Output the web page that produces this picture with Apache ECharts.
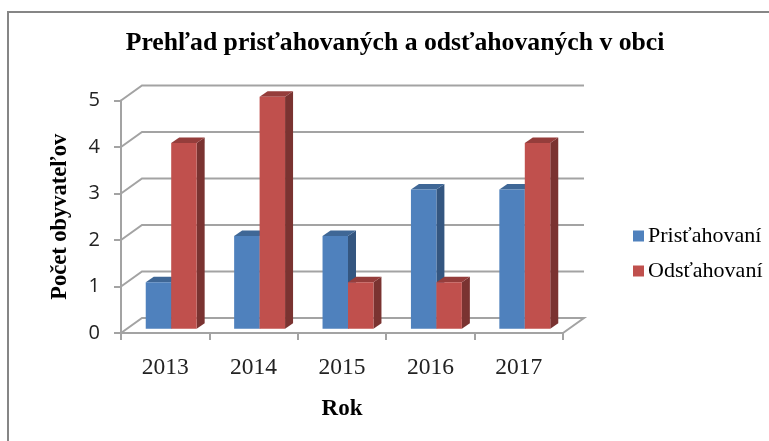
<!DOCTYPE html>
<html><head><meta charset="utf-8">
<style>html,body{margin:0;padding:0;background:#fff}#c{width:769px;height:441px}</style>
<script src="https://cdn.jsdelivr.net/npm/echarts@6/dist/echarts.min.js"></script>
</head><body><div id="c"></div>
<script>
const categories = ['2013','2014','2015','2016','2017'];
const prist = [1,2,2,3,3];
const odst = [4,5,1,1,4];
const yTicks = [0,1,2,3,4,5];
const seriesNames = ['Prisťahovaní','Odsťahovaní'];

const SERIF = '"Liberation Serif"';
const BACK = [21,-15], OFF = [6,-4.3], DEPTH = [8,-5.5];
const GRID = '#A3A3A3';

function bar(side, face, top, dark){
  return function(params, api){
    const c = api.coord([api.value(0), api.value(1)]);
    const b = api.coord([api.value(0), 0]);
    const w = api.size([1,0])[0]*0.288;
    const x0 = c[0]+OFF[0]+(side<0?-w:0), x1 = x0+w;
    const yB = b[1]+OFF[1];
    const yTop = yB-(b[1]-c[1])*0.9979;
    const d = DEPTH;
    return {type:'group',children:[
      {type:'polygon',shape:{points:[[x1,yTop],[x1+d[0],yTop+d[1]],[x1+d[0],yB+d[1]],[x1,yB]]},style:{fill:dark}},
      {type:'polygon',shape:{points:[[x0,yTop],[x0+d[0],yTop+d[1]],[x1+d[0],yTop+d[1]],[x1,yTop]]},style:{fill:top}},
      {type:'rect',shape:{x:x0,y:yTop,width:w,height:yB-yTop},style:{fill:face}}
    ]};
  };
}
function wall(params, api){
  const p = api.coord([0, api.value(1)]);
  const r = params.coordSys;
  const L = r.x, R = r.x+r.width, y = p[1];
  const pts = [[L,y],[L+BACK[0],y+BACK[1]],[R+BACK[0],y+BACK[1]]];
  if(api.value(1)===0) pts.push([R,y]);
  return {type:'polyline',shape:{points:pts},style:{stroke:GRID,lineWidth:2,fill:null}};
}
const chart = echarts.init(document.getElementById('c'),null,{renderer:'canvas'});
chart.setOption({
  animation:false,
  backgroundColor:'#fff',
  title:{text:'Prehľad prisťahovaných a odsťahovaných v obci',left:390,textAlign:'center',top:25,
    textStyle:{fontFamily:SERIF,fontWeight:'bold',fontSize:25.7,color:'#000'}},
  graphic:[{type:'polyline',shape:{points:[[8,445],[8,12],[775,12]]},style:{stroke:'#868686',lineWidth:2,fill:null},silent:true}],
  legend:{left:628,top:220,orient:'vertical',itemWidth:11,itemHeight:11,itemGap:13,icon:'rect',
    data:seriesNames,textStyle:{fontFamily:SERIF,fontSize:22,color:'#000',padding:[0,0,0,-1]}},
  grid:{left:121,top:100.5,width:442,height:232.5},
  xAxis:{type:'category',data:categories,
    axisLine:{lineStyle:{color:GRID,width:2}},
    axisTick:{show:true,length:7,lineStyle:{color:GRID,width:2}},
    axisLabel:{fontFamily:SERIF,fontSize:23.5,color:'#222',margin:23},
    name:'Rok',nameLocation:'middle',nameGap:65,
    nameTextStyle:{fontFamily:SERIF,fontWeight:'bold',fontSize:23,color:'#000'}},
  yAxis:{type:'value',min:0,max:5,interval:1,
    splitLine:{show:false},
    axisLine:{show:true,lineStyle:{color:GRID,width:2}},
    axisTick:{show:true,length:7,lineStyle:{color:GRID,width:2}},
    axisLabel:{fontFamily:'"Open Sans"',fontSize:20,color:'#222',margin:21,padding:[5,0,0,0]},
    name:'Počet obyvateľov',nameLocation:'middle',nameGap:49,
    nameTextStyle:{fontFamily:SERIF,fontWeight:'bold',fontSize:22.5,color:'#000'}},
  series:[
    {type:'custom',name:'_wall',renderItem:wall,z:1,silent:true,data:yTicks.map(v=>[0,v]),encode:{x:0,y:1},clip:false},
    {type:'custom',name:seriesNames[0],renderItem:bar(-1,'#4F81BD','#3F6796','#345680'),z:2,
      itemStyle:{color:'#4F81BD'},data:prist.map((v,i)=>[i,v]),encode:{x:0,y:1},clip:false},
    {type:'custom',name:seriesNames[1],renderItem:bar(1,'#C0504D','#953D3B','#7A3331'),z:3,
      itemStyle:{color:'#C0504D'},data:odst.map((v,i)=>[i,v]),encode:{x:0,y:1},clip:false}
  ]
});
</script></body></html>
